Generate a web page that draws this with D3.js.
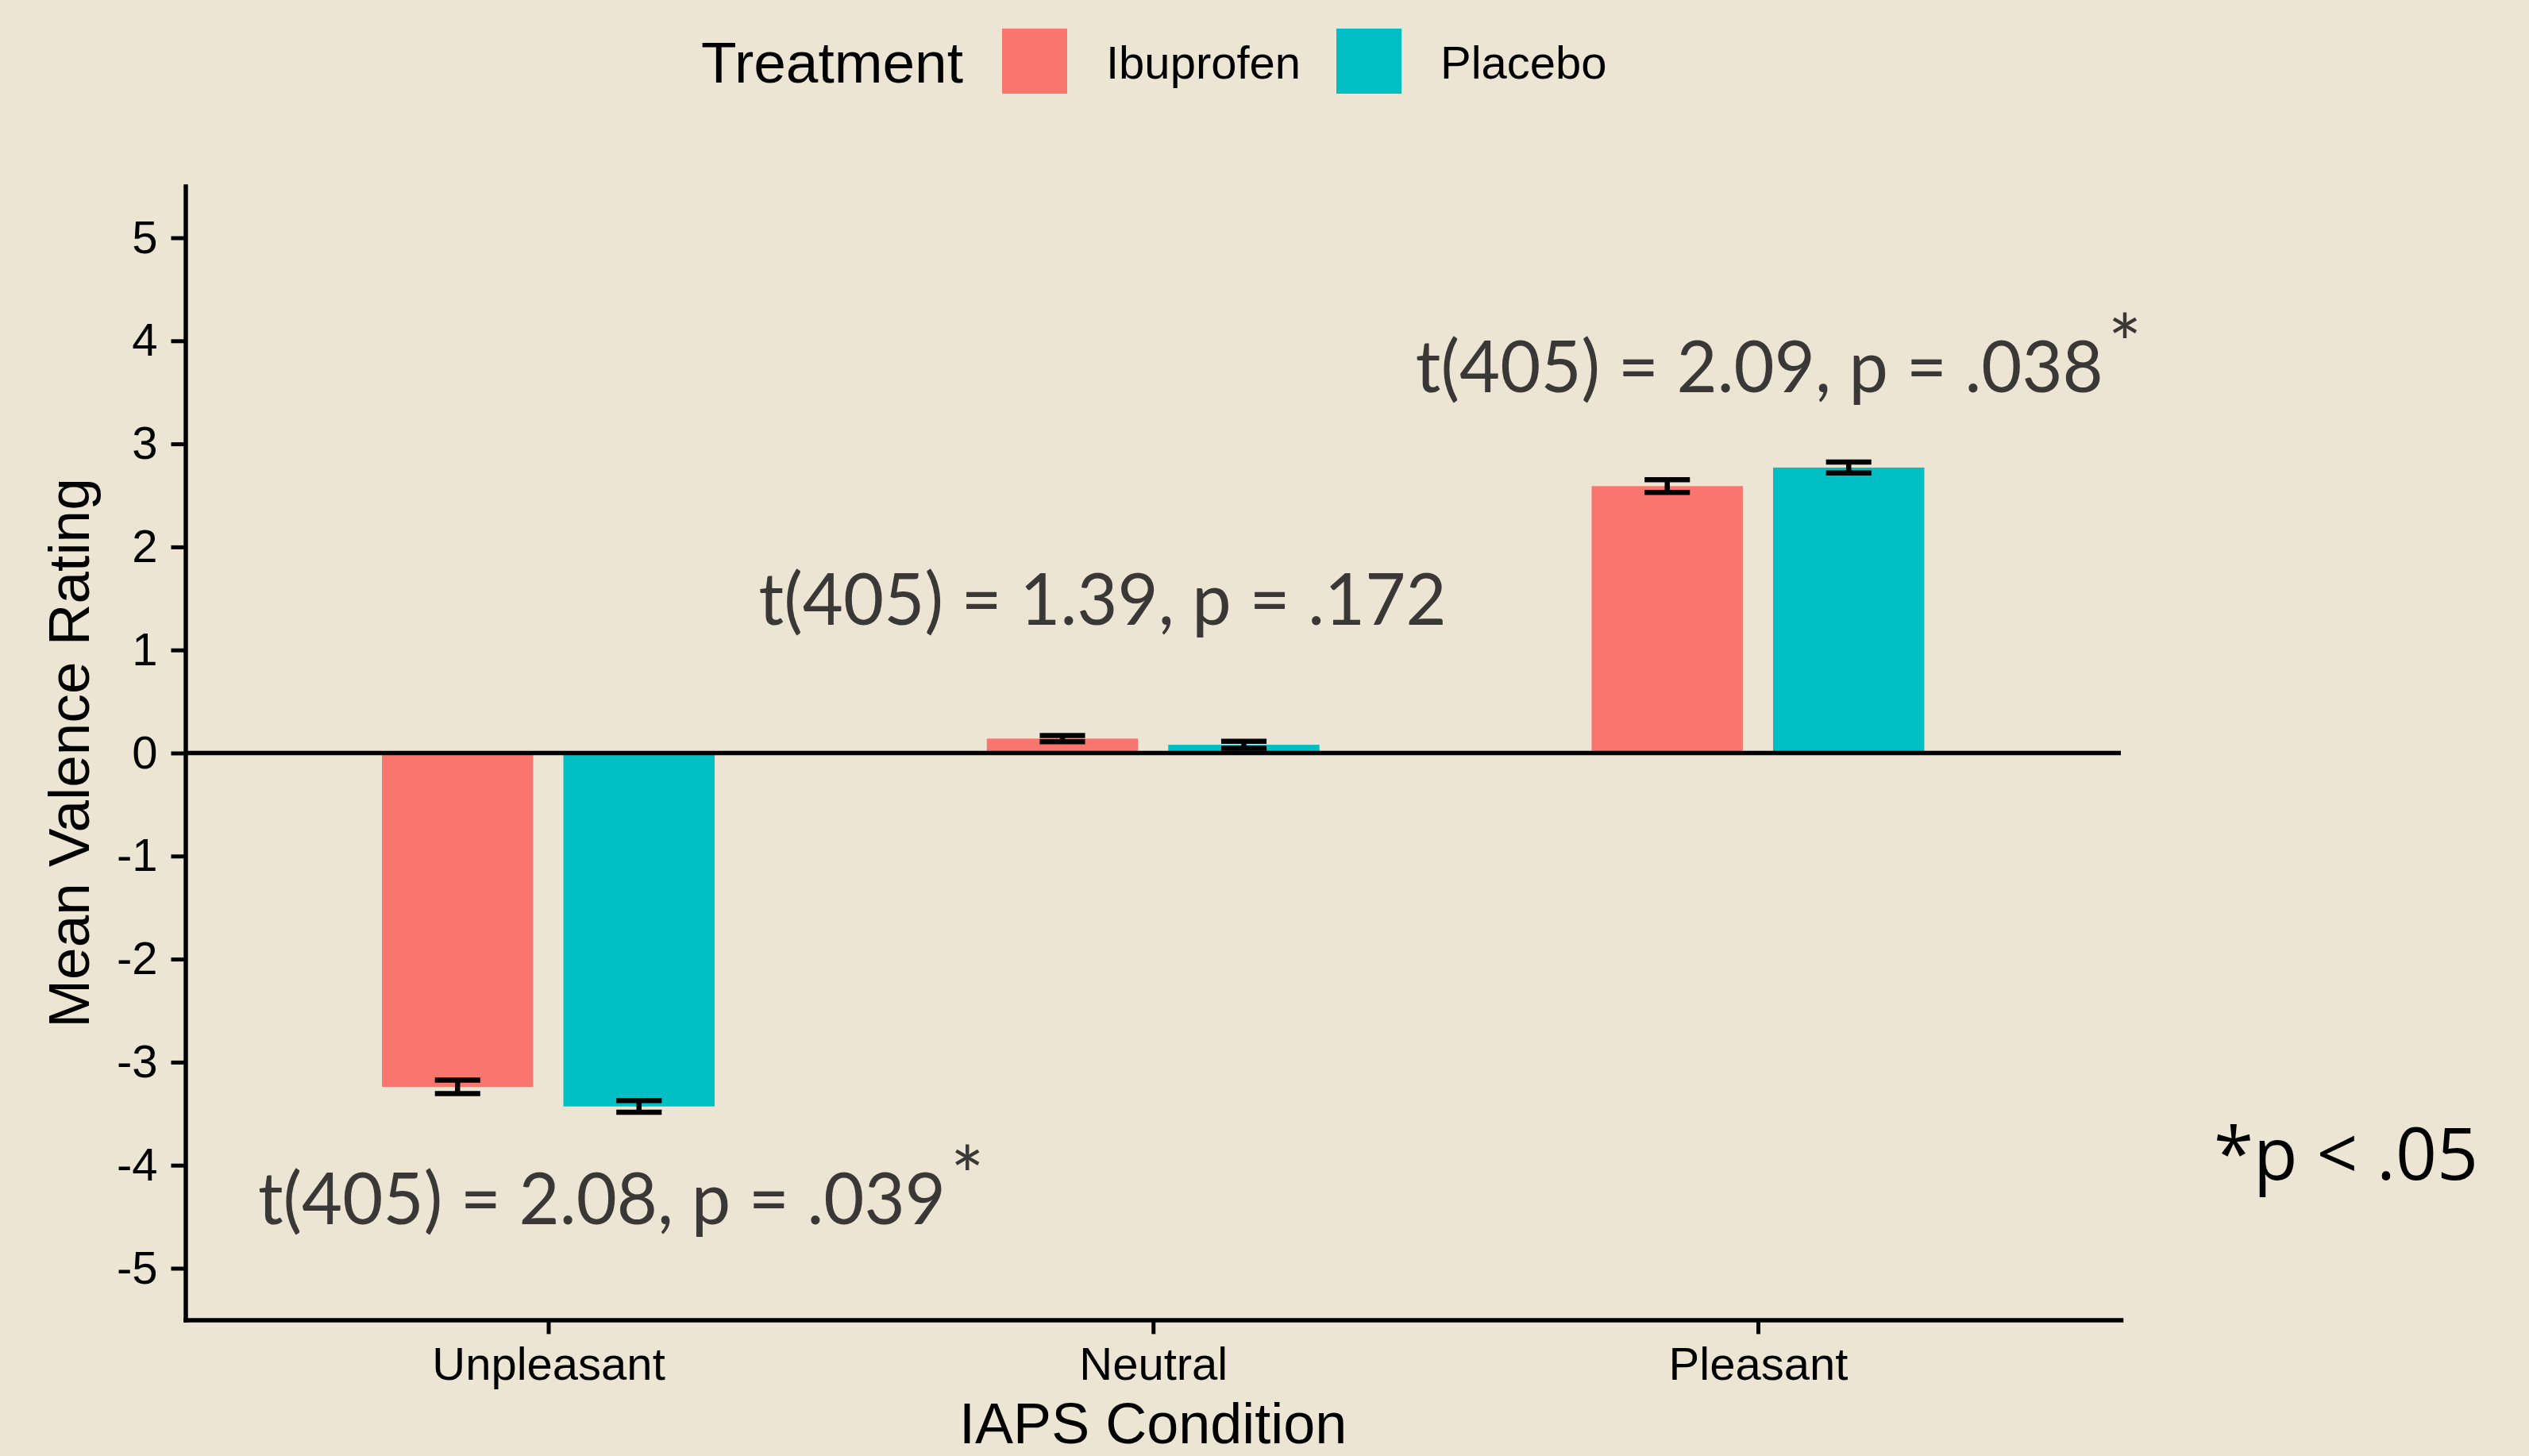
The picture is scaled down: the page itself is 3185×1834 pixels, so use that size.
<!DOCTYPE html>
<html>
<head>
<meta charset="utf-8">
<script src="https://cdn.jsdelivr.net/npm/d3@7"></script>
<style>
  html, body { margin: 0; padding: 0; background: #ece5d3; }
  svg { display: block; }
</style>
</head>
<body>
<svg id="chart" width="3185" height="1834"></svg>
<script>
// ---------------- data ----------------
const categories = ["Unpleasant", "Neutral", "Pleasant"];
const treatments = ["Ibuprofen", "Placebo"];
const ibuprofenMean = [-3.24, 0.14, 2.59];
const placeboMean   = [-3.43, 0.08, 2.77];
const ibuprofenSE   = [0.065, 0.030, 0.062];
const placeboSE     = [0.057, 0.033, 0.053];
const yTicks = [-5, -4, -3, -2, -1, 0, 1, 2, 3, 4, 5];
const yTickLabels = ["-5", "-4", "-3", "-2", "-1", "0", "1", "2", "3", "4", "5"];
const yDomain = [-5.5, 5.5];
const treatmentColors = ["#F8766D", "#00BFC4"];
const annotationLabels = ["t(405) = 2.08, p = .039", "t(405) = 1.39, p = .172", "t(405) = 2.09, p = .038"];
const annotationStars  = ["*", "", "*"];
const annotationY      = [-4.576, 1.244, 3.505];      // baseline, in data units
const annotationOffset = [-0.48, -0.652, -0.566];     // start, in category-step units from category centre
const footnote = "*p < .05";
const xTitle = "IAPS Condition";
const yTitle = "Mean Valence Rating";
const legendTitle = "Treatment";

// ---------------- layout ----------------
const W = 3185, H = 1834;
const pLeft = 233.5, pRight = 2671, pTop = 234.6, pBottom = 1662.4;
const bg = "#ece5d3";
const axisFont = "'Liberation Sans', Arial, Helvetica, sans-serif";
const annFont = "Lato, 'Open Sans', sans-serif";

const svg = d3.select("#chart");
svg.append("rect").attr("width", W).attr("height", H).attr("fill", bg);

const x = d3.scalePoint().domain(categories).range([pLeft, pRight]).padding(0.6);
const step = x.step();
const x1 = d3.scaleBand().domain(treatments)
  .range([-0.275 * step, 0.275 * step]).paddingInner(1 / 6).paddingOuter(0);
const y = d3.scaleLinear().domain(yDomain).range([pBottom, pTop]);
const color = d3.scaleOrdinal().domain(treatments).range(treatmentColors);

const rows = [];
categories.forEach((c, i) => {
  rows.push({ cat: c, trt: treatments[0], mean: ibuprofenMean[i], se: ibuprofenSE[i] });
  rows.push({ cat: c, trt: treatments[1], mean: placeboMean[i], se: placeboSE[i] });
});

// bars
svg.append("g").selectAll("rect").data(rows).join("rect")
  .attr("x", d => x(d.cat) + x1(d.trt))
  .attr("width", x1.bandwidth())
  .attr("y", d => y(Math.max(0, d.mean)))
  .attr("height", d => Math.abs(y(d.mean) - y(0)))
  .attr("fill", d => color(d.trt));

// error bars
const capHalf = 0.0375 * step;
const eb = svg.append("g").attr("stroke", "#000").attr("stroke-width", 6.5).attr("fill", "none");
rows.forEach(d => {
  const cx = x(d.cat) + x1(d.trt) + x1.bandwidth() / 2;
  const y0 = y(d.mean + d.se), y1 = y(d.mean - d.se);
  eb.append("line").attr("x1", cx).attr("x2", cx).attr("y1", y0).attr("y2", y1);
  eb.append("line").attr("x1", cx - capHalf).attr("x2", cx + capHalf).attr("y1", y0).attr("y2", y0);
  eb.append("line").attr("x1", cx - capHalf).attr("x2", cx + capHalf).attr("y1", y1).attr("y2", y1);
});

// zero line
svg.append("line")
  .attr("x1", pLeft).attr("x2", pRight)
  .attr("y1", y(0)).attr("y2", y(0))
  .attr("stroke", "#000").attr("stroke-width", 5.5);

// axes
const yAxis = svg.append("g").attr("transform", `translate(${pLeft},0)`)
  .call(d3.axisLeft(y).tickValues(yTicks).tickSize(18).tickSizeOuter(0).tickPadding(17)
    .tickFormat((d, i) => yTickLabels[i]));
const xAxis = svg.append("g").attr("transform", `translate(0,${pBottom})`)
  .call(d3.axisBottom(x).tickSize(18).tickSizeOuter(0).tickPadding(16));
[yAxis, xAxis].forEach(g => {
  g.attr("font-family", null).attr("font-size", null);
  g.select(".domain").attr("stroke", "#000").attr("stroke-width", 5.5).attr("stroke-linecap", "square");
  g.selectAll(".tick line").attr("stroke", "#000").attr("stroke-width", 5);
  g.selectAll(".tick text").attr("fill", "#000").style("font-family", axisFont).style("font-size", "58px");
});

// axis titles
svg.append("text")
  .attr("transform", `translate(112,${(pTop + pBottom) / 2}) rotate(-90)`)
  .attr("text-anchor", "middle")
  .style("font-family", axisFont).style("font-size", "73px").attr("fill", "#000")
  .text(yTitle);
svg.append("text")
  .attr("x", (pLeft + pRight) / 2).attr("y", 1818)
  .attr("text-anchor", "middle")
  .style("font-family", axisFont).style("font-size", "72px").attr("fill", "#000")
  .text(xTitle);

// annotations (label + superscript star in one text element)
const ann = svg.append("g").attr("fill", "#3a3836").style("font-family", annFont);
annotationLabels.forEach((lab, i) => {
  const sx = x(categories[i]) + annotationOffset[i] * step;
  const by = y(annotationY[i]);
  const t = ann.append("text").attr("x", sx).attr("y", by).style("font-size", "92px");
  t.append("tspan").attr("textLength", 866).attr("lengthAdjust", "spacingAndGlyphs").text(lab);
  if (annotationStars[i]) {
    t.append("tspan").attr("dx", 6).attr("dy", -24).style("font-size", "100px").text(annotationStars[i]);
  }
});

// footnote
svg.append("text").attr("x", 2788).attr("y", 1486)
  .style("font-family", "'Open Sans', sans-serif").style("font-size", "91px").attr("fill", "#000")
  .text(footnote);

// legend
const lg = svg.append("g");
lg.append("text").attr("x", 883).attr("y", 104)
  .style("font-family", axisFont).style("font-size", "73px").attr("fill", "#000").text(legendTitle);
const legendX = [1262, 1683];
treatments.forEach((t, i) => {
  lg.append("rect").attr("x", legendX[i]).attr("y", 36).attr("width", 82).attr("height", 82).attr("fill", color(t));
  lg.append("text").attr("x", legendX[i] + 131).attr("y", 99)
    .style("font-family", axisFont).style("font-size", "58px").attr("fill", "#000").text(t);
});
</script>
</body>
</html>
